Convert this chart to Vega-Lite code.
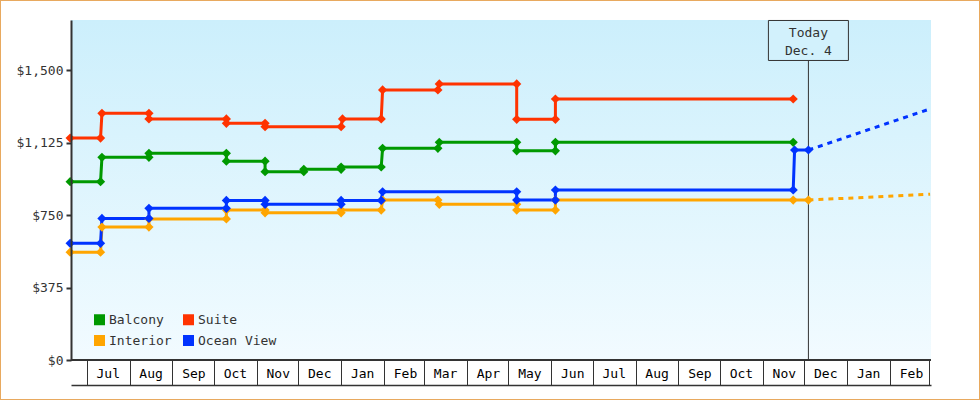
{
  "$schema": "https://vega.github.io/schema/vega-lite/v6.json",
  "width": 980,
  "height": 400,
  "padding": 0,
  "autosize": "none",
  "background": "white",
  "config": {
    "view": {"stroke": "#E8A95F", "strokeWidth": 2},
    "font": "DejaVu Sans Mono",
    "text": {"font": "DejaVu Sans Mono"}
  },
  "datasets": {
    "prices": [
      {"s": "Balcony", "d": "2023-06-19", "p": 923, "k": 1},
      {"s": "Balcony", "d": "2023-07-11", "p": 923, "k": 2},
      {"s": "Balcony", "d": "2023-07-12", "p": 1049, "k": 3},
      {"s": "Balcony", "d": "2023-08-15", "p": 1049, "k": 4},
      {"s": "Balcony", "d": "2023-08-15", "p": 1070, "k": 5},
      {"s": "Balcony", "d": "2023-10-10", "p": 1070, "k": 6},
      {"s": "Balcony", "d": "2023-10-10", "p": 1029, "k": 7},
      {"s": "Balcony", "d": "2023-11-07", "p": 1029, "k": 8},
      {"s": "Balcony", "d": "2023-11-07", "p": 975, "k": 9},
      {"s": "Balcony", "d": "2023-12-05", "p": 975, "k": 10},
      {"s": "Balcony", "d": "2023-12-05", "p": 987, "k": 11},
      {"s": "Balcony", "d": "2024-01-01", "p": 987, "k": 12},
      {"s": "Balcony", "d": "2024-01-01", "p": 999, "k": 13},
      {"s": "Balcony", "d": "2024-01-30", "p": 999, "k": 14},
      {"s": "Balcony", "d": "2024-01-31", "p": 1096, "k": 15},
      {"s": "Balcony", "d": "2024-03-11", "p": 1096, "k": 16},
      {"s": "Balcony", "d": "2024-03-12", "p": 1127, "k": 17},
      {"s": "Balcony", "d": "2024-05-07", "p": 1127, "k": 18},
      {"s": "Balcony", "d": "2024-05-07", "p": 1083, "k": 19},
      {"s": "Balcony", "d": "2024-06-04", "p": 1083, "k": 20},
      {"s": "Balcony", "d": "2024-06-04", "p": 1127, "k": 21},
      {"s": "Balcony", "d": "2024-11-23", "p": 1127, "k": 22},
      {"s": "Suite", "d": "2023-06-19", "p": 1149, "k": 23},
      {"s": "Suite", "d": "2023-07-11", "p": 1149, "k": 24},
      {"s": "Suite", "d": "2023-07-12", "p": 1277, "k": 25},
      {"s": "Suite", "d": "2023-08-15", "p": 1277, "k": 26},
      {"s": "Suite", "d": "2023-08-15", "p": 1248, "k": 27},
      {"s": "Suite", "d": "2023-10-10", "p": 1248, "k": 28},
      {"s": "Suite", "d": "2023-10-10", "p": 1225, "k": 29},
      {"s": "Suite", "d": "2023-11-07", "p": 1225, "k": 30},
      {"s": "Suite", "d": "2023-11-07", "p": 1208, "k": 31},
      {"s": "Suite", "d": "2024-01-01", "p": 1208, "k": 32},
      {"s": "Suite", "d": "2024-01-02", "p": 1248, "k": 33},
      {"s": "Suite", "d": "2024-01-30", "p": 1248, "k": 34},
      {"s": "Suite", "d": "2024-01-31", "p": 1398, "k": 35},
      {"s": "Suite", "d": "2024-03-11", "p": 1398, "k": 36},
      {"s": "Suite", "d": "2024-03-12", "p": 1429, "k": 37},
      {"s": "Suite", "d": "2024-05-07", "p": 1429, "k": 38},
      {"s": "Suite", "d": "2024-05-07", "p": 1246, "k": 39},
      {"s": "Suite", "d": "2024-06-04", "p": 1246, "k": 40},
      {"s": "Suite", "d": "2024-06-04", "p": 1351, "k": 41},
      {"s": "Suite", "d": "2024-11-23", "p": 1351, "k": 42},
      {"s": "Interior", "d": "2023-06-19", "p": 558, "k": 43},
      {"s": "Interior", "d": "2023-07-11", "p": 558, "k": 44},
      {"s": "Interior", "d": "2023-07-12", "p": 688, "k": 45},
      {"s": "Interior", "d": "2023-08-15", "p": 688, "k": 46},
      {"s": "Interior", "d": "2023-08-15", "p": 730, "k": 47},
      {"s": "Interior", "d": "2023-10-10", "p": 730, "k": 48},
      {"s": "Interior", "d": "2023-10-10", "p": 776, "k": 49},
      {"s": "Interior", "d": "2023-11-07", "p": 776, "k": 50},
      {"s": "Interior", "d": "2023-11-07", "p": 762, "k": 51},
      {"s": "Interior", "d": "2024-01-01", "p": 762, "k": 52},
      {"s": "Interior", "d": "2024-01-01", "p": 776, "k": 53},
      {"s": "Interior", "d": "2024-01-30", "p": 776, "k": 54},
      {"s": "Interior", "d": "2024-01-31", "p": 828, "k": 55},
      {"s": "Interior", "d": "2024-03-11", "p": 828, "k": 56},
      {"s": "Interior", "d": "2024-03-12", "p": 806, "k": 57},
      {"s": "Interior", "d": "2024-05-07", "p": 806, "k": 58},
      {"s": "Interior", "d": "2024-05-07", "p": 776, "k": 59},
      {"s": "Interior", "d": "2024-06-04", "p": 776, "k": 60},
      {"s": "Interior", "d": "2024-06-04", "p": 828, "k": 61},
      {"s": "Interior", "d": "2024-11-23", "p": 828, "k": 62},
      {"s": "Interior", "d": "2024-12-04", "p": 828, "k": 63},
      {"s": "Ocean View", "d": "2023-06-19", "p": 604, "k": 64},
      {"s": "Ocean View", "d": "2023-07-11", "p": 604, "k": 65},
      {"s": "Ocean View", "d": "2023-07-12", "p": 733, "k": 66},
      {"s": "Ocean View", "d": "2023-08-15", "p": 733, "k": 67},
      {"s": "Ocean View", "d": "2023-08-15", "p": 785, "k": 68},
      {"s": "Ocean View", "d": "2023-10-10", "p": 785, "k": 69},
      {"s": "Ocean View", "d": "2023-10-10", "p": 826, "k": 70},
      {"s": "Ocean View", "d": "2023-11-07", "p": 826, "k": 71},
      {"s": "Ocean View", "d": "2023-11-07", "p": 806, "k": 72},
      {"s": "Ocean View", "d": "2024-01-01", "p": 806, "k": 73},
      {"s": "Ocean View", "d": "2024-01-01", "p": 826, "k": 74},
      {"s": "Ocean View", "d": "2024-01-30", "p": 826, "k": 75},
      {"s": "Ocean View", "d": "2024-01-31", "p": 871, "k": 76},
      {"s": "Ocean View", "d": "2024-05-07", "p": 871, "k": 77},
      {"s": "Ocean View", "d": "2024-05-07", "p": 828, "k": 78},
      {"s": "Ocean View", "d": "2024-06-04", "p": 828, "k": 79},
      {"s": "Ocean View", "d": "2024-06-04", "p": 880, "k": 80},
      {"s": "Ocean View", "d": "2024-11-23", "p": 880, "k": 81},
      {"s": "Ocean View", "d": "2024-11-24", "p": 1087, "k": 82},
      {"s": "Ocean View", "d": "2024-12-04", "p": 1087, "k": 83}
    ],
    "proj": [
      {"s": "Interior", "d": "2024-12-04", "p": 828},
      {"s": "Interior", "d": "2025-03-02", "p": 858},
      {"s": "Ocean View", "d": "2024-12-04", "p": 1087},
      {"s": "Ocean View", "d": "2025-03-02", "p": 1300}
    ]
  },
  "layer": [
    {
      "data": {"values": [{}]},
      "mark": {
        "type": "rect",
        "color": {
          "gradient": "linear", "x1": 0, "y1": 0, "x2": 0, "y2": 1,
          "stops": [{"offset": 0, "color": "#CCEFFC"}, {"offset": 1, "color": "#F2FBFF"}]
        }
      },
      "encoding": {
        "x": {
          "datum": {"year": 2023, "month": 6, "date": 19, "hours": 15, "utc": true},
          "type": "temporal",
          "scale": {
            "type": "utc",
            "domain": [
              {"year": 2023, "month": 6, "date": 19, "hours": 15, "utc": true},
              {"year": 2025, "month": 3, "date": 2, "hours": 16, "utc": true}
            ],
            "range": [71, 931],
            "nice": false
          },
          "axis": {
            "orient": "bottom",
            "offset": -15,
            "zindex": 1,
            "title": null,
            "grid": false,
            "values": [
              {"year": 2023, "month": 7, "date": 1, "utc": true},
              {"year": 2023, "month": 8, "date": 1, "utc": true},
              {"year": 2023, "month": 9, "date": 1, "utc": true},
              {"year": 2023, "month": 10, "date": 1, "utc": true},
              {"year": 2023, "month": 11, "date": 1, "utc": true},
              {"year": 2023, "month": 12, "date": 1, "utc": true},
              {"year": 2024, "month": 1, "date": 1, "utc": true},
              {"year": 2024, "month": 2, "date": 1, "utc": true},
              {"year": 2024, "month": 3, "date": 1, "utc": true},
              {"year": 2024, "month": 4, "date": 1, "utc": true},
              {"year": 2024, "month": 5, "date": 1, "utc": true},
              {"year": 2024, "month": 6, "date": 1, "utc": true},
              {"year": 2024, "month": 7, "date": 1, "utc": true},
              {"year": 2024, "month": 8, "date": 1, "utc": true},
              {"year": 2024, "month": 9, "date": 1, "utc": true},
              {"year": 2024, "month": 10, "date": 1, "utc": true},
              {"year": 2024, "month": 11, "date": 1, "utc": true},
              {"year": 2024, "month": 12, "date": 1, "utc": true},
              {"year": 2025, "month": 1, "date": 1, "utc": true},
              {"year": 2025, "month": 2, "date": 1, "utc": true},
              {"year": 2025, "month": 3, "date": 1, "utc": true}
            ],
            "labelExpr": "datum.value >= 1740700000000 ? '' : utcFormat(datum.value, '%b')",
            "tickSize": -25,
            "tickColor": "#333333",
            "tickWidth": 1,
            "domainColor": "#333333",
            "domainWidth": 1.5,
            "labelOffset": 21,
            "labelPadding": 13.5,
            "labelBaseline": "middle",
            "labelFont": "DejaVu Sans Mono",
            "labelFontSize": 13,
            "labelColor": "#000000",
            "labelFlush": false,
            "labelOverlap": false,
            "labelBound": false
          }
        },
        "x2": {"datum": {"year": 2025, "month": 3, "date": 2, "hours": 16, "utc": true}},
        "y": {
          "datum": 0,
          "type": "quantitative",
          "scale": {"domain": [0, 1760], "range": [360, 20], "nice": false, "zero": true},
          "axis": {
            "orient": "left",
            "offset": -71,
            "zindex": 1,
            "title": null,
            "grid": false,
            "values": [0, 375, 750, 1125, 1500],
            "format": "$,.0f",
            "tickSize": 5,
            "tickWidth": 2,
            "tickColor": "#333333",
            "domainColor": "#333333",
            "domainWidth": 2,
            "labelPadding": 3,
            "labelFont": "DejaVu Sans Mono",
            "labelFontSize": 13,
            "labelColor": "#333333"
          }
        },
        "y2": {"datum": 1760}
      }
    },
    {
      "data": {"values": [{}]},
      "mark": {"type": "rule", "color": "#333333", "strokeWidth": 2},
      "encoding": {
        "x": {"datum": {"year": 2023, "month": 6, "date": 19, "hours": 15, "utc": true}, "type": "temporal"},
        "x2": {"datum": {"year": 2025, "month": 3, "date": 2, "hours": 16, "utc": true}},
        "y": {"datum": 0, "type": "quantitative"}
      }
    },
    {
      "data": {"values": [{}]},
      "mark": {"type": "rule", "color": "#333333", "strokeWidth": 1},
      "encoding": {
        "x": {"datum": {"year": 2024, "month": 12, "date": 4, "utc": true}, "type": "temporal"},
        "y": {"datum": 0, "type": "quantitative"},
        "y2": {"datum": 1549}
      }
    },
    {
      "data": {"values": [{}]},
      "mark": {"type": "rect", "width": 80, "height": 40, "fill": "#D2F1FC", "stroke": "#333333", "strokeWidth": 1},
      "encoding": {
        "x": {"datum": {"year": 2024, "month": 12, "date": 4, "utc": true}, "type": "temporal"},
        "y": {"datum": 1654, "type": "quantitative"}
      }
    },
    {
      "data": {"values": [{}]},
      "mark": {"type": "text", "font": "DejaVu Sans Mono", "fontSize": 13, "color": "#333333", "align": "center", "baseline": "middle", "lineHeight": 18},
      "encoding": {
        "x": {"datum": {"year": 2024, "month": 12, "date": 4, "utc": true}, "type": "temporal"},
        "y": {"datum": 1694, "type": "quantitative"},
        "text": {"value": ["Today", "Dec. 4"]}
      }
    },
    {
      "data": {"name": "prices"},
      "mark": {"type": "line", "strokeWidth": 3, "interpolate": "linear"},
      "encoding": {
        "x": {"field": "d", "type": "temporal"},
        "y": {"field": "p", "type": "quantitative"},
        "order": {"field": "k", "type": "quantitative"},
        "color": {
          "field": "s",
          "type": "nominal",
          "scale": {"domain": ["Balcony", "Suite", "Interior", "Ocean View"], "range": ["#009900", "#FF3300", "#FFA500", "#0033FF"]},
          "legend": {
            "title": null,
            "orient": "none",
            "direction": "horizontal",
            "legendX": 93,
            "legendY": 313,
            "columns": 2,
            "symbolType": "square",
            "symbolSize": 121,
            "symbolStrokeWidth": 0,
            "symbolOpacity": 1,
            "labelFont": "DejaVu Sans Mono",
            "labelFontSize": 13,
            "labelColor": "#333333",
            "labelOffset": 3,
            "columnPadding": 10,
            "rowPadding": 7,
            "padding": 0,
            "zindex": 2
          }
        }
      }
    },
    {
      "data": {"name": "proj"},
      "mark": {"type": "line", "strokeWidth": 3, "strokeDash": [5, 5]},
      "encoding": {
        "x": {"field": "d", "type": "temporal"},
        "y": {"field": "p", "type": "quantitative"},
        "color": {"field": "s", "type": "nominal"}
      }
    },
    {
      "data": {"name": "prices"},
      "mark": {"type": "point", "shape": "diamond", "filled": true, "size": 85, "opacity": 1},
      "encoding": {
        "x": {"field": "d", "type": "temporal"},
        "y": {"field": "p", "type": "quantitative"},
        "color": {"field": "s", "type": "nominal"}
      }
    }
  ]
}
